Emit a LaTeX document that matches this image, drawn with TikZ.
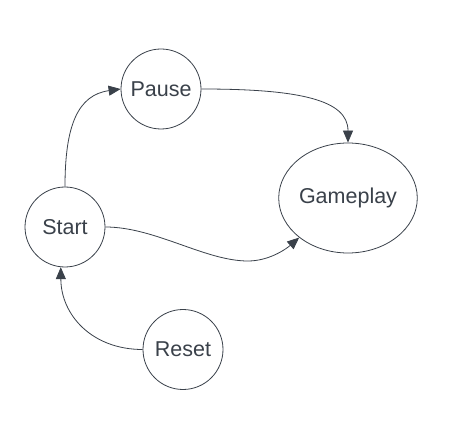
\documentclass[tikz,border=0pt]{standalone}
\usepackage{fontspec}
\setmainfont{Liberation Sans}
\usetikzlibrary{shapes.geometric,arrows.meta}
\definecolor{ink}{HTML}{3A414A}
\begin{document}
\begin{tikzpicture}[x=1pt,y=-1pt,
  state/.style={circle,draw=ink,line width=0.8pt,minimum size=80pt,inner sep=0pt,text=ink,font=\fontsize{21.5}{25}\selectfont},
  bigstate/.style={ellipse,draw=ink,line width=0.8pt,minimum width=138pt,minimum height=110pt,inner sep=0pt,text=ink,font=\fontsize{21.5}{25}\selectfont},
  link/.style={draw=ink,line width=0.8pt,-{Triangle[length=12pt,width=10pt]}}]
\useasboundingbox[fill=white] (0,0) rectangle (464,425);
\node[state] (p) at (161,89) {Pause};
\node[bigstate] (g) at (348,198) {Gameplay};
\node[state] (s) at (65,227) {Start};
\node[state] (r) at (183,349.5) {Reset};
\draw[link] (s.north) .. controls (65,125) and (78,95) .. (p.west);
\draw[link] (p.east) .. controls (300,89) and (348,100) .. (g.north);
\draw[link] (s.east) .. controls (155,227) and (205,261) .. (248,261) .. controls (268,261) and (285,250) .. (g.219);
\draw[link] (r.west) .. controls (92,349.5) and (61,315) .. (s.264);
\end{tikzpicture}
\end{document}
